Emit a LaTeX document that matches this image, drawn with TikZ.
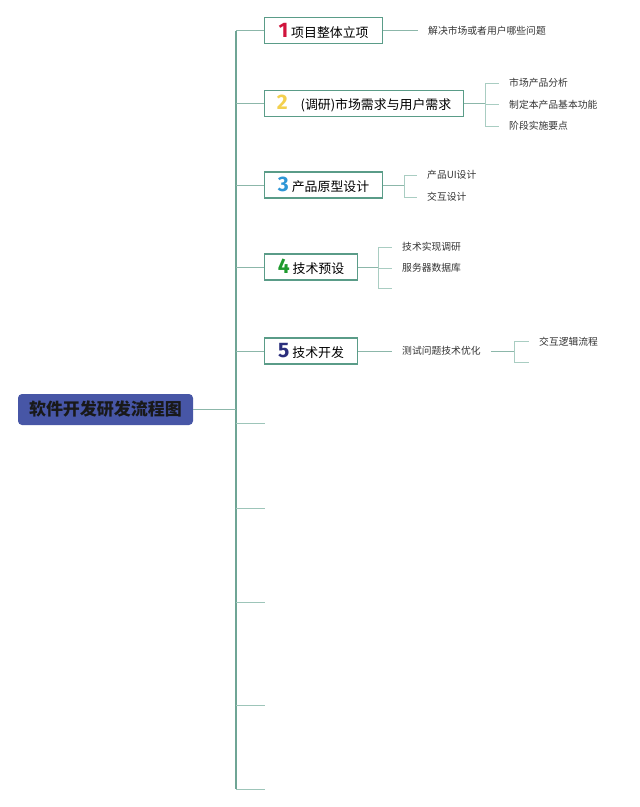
\documentclass[tikz,border=0pt]{standalone}
\usepackage{fontspec}
\setmainfont{Noto Sans CJK SC}
\newfontfamily\numfont{Fira Sans}
\usetikzlibrary{positioning}

\definecolor{trunkgreen}{HTML}{6FA595}
\definecolor{boxgreen}{HTML}{5A9C88}
\definecolor{leafgreen}{HTML}{A9CDC2}
\definecolor{rootblue}{HTML}{4756A6}
\definecolor{numred}{HTML}{D0143C}
\definecolor{numyellow}{HTML}{F3D04E}
\definecolor{numblue}{HTML}{2E96D6}
\definecolor{numgreen}{HTML}{1E9A2E}
\definecolor{numnavy}{HTML}{2A2E7C}

\newcommand\topicnum[2]{{\numfont\bfseries\fontsize{21}{21}\selectfont\color{#1}#2}}

\tikzset{
  root/.style={fill=rootblue, rounded corners=4pt, minimum width=175pt, minimum height=31pt,
    text=black!90, font=\bfseries\fontsize{17}{20}\selectfont},
  topic/.style={draw=boxgreen, line width=1.2pt, fill=white, anchor=west, minimum height=26pt,
    inner ysep=2pt, font=\fontsize{12.9}{14}\selectfont},
  leaf/.style={anchor=west, inner xsep=10pt, text=black!80, font=\fontsize{9.8}{11}\selectfont},
  trunk/.style={draw=trunkgreen, line width=1.3pt},
  branch/.style={draw=trunkgreen!80, line width=1pt},
  leafline/.style={draw=leafgreen, line width=0.9pt},
  stub/.style={draw=leafgreen!80!trunkgreen, line width=1pt}
}

\begin{document}
\begin{tikzpicture}[x=1pt, y=-1pt]
\useasboundingbox (0,0) rectangle (640,807);

% Root and trunk
\node[root] (root) at (105.5,409.5) {软件开发研发流程图};
\coordinate (top) at (236,30.5);
\coordinate (bottom) at (236,789);
\draw[trunk] (top) -- (bottom);
\draw[branch] (root.east) -- (root.east -| top);

% Main topics
\node[topic, minimum width=118pt] (t1) at (264,30.5) {\topicnum{numred}{1}\ 项目整体立项};
\node[topic, minimum width=199pt] (t2) at (264,103.5) {\topicnum{numyellow}{2}\quad(调研)市场需求与用户需求};
\node[topic, minimum width=118pt] (t3) at (264,185) {\topicnum{numblue}{3}\ 产品原型设计};
\node[topic, minimum width=93pt] (t4) at (264,267) {\topicnum{numgreen}{4}\ 技术预设};
\node[topic, minimum width=93pt] (t5) at (264,351) {\topicnum{numnavy}{5}\ 技术开发};

\foreach \t in {t1,t2,t3,t4,t5}
  \draw[branch] (\t.west -| top) -- (\t.west);

% Empty branches
\foreach \y [count=\i] in {423,508,602,705,789} {
  \coordinate (stub\i) at (265,\y);
  \draw[stub] (stub\i -| top) -- (stub\i);
}

% Topic 1
\node[leaf] (l11) at (418,31) {解决市场或者用户哪些问题};
\draw[branch] (t1.east) -- (t1.east -| l11.west);

% Topic 2
\coordinate (k2) at (485,103.5);
\node[leaf] (l21) at (499,83) {市场产品分析};
\node[leaf] (l22) at (499,104.5) {制定本产品基本功能};
\node[leaf] (l23) at (499,126) {阶段实施要点};
\draw[branch] (t2.east) -- (k2);
\draw[leafline] (k2 |- l21) -- (k2 |- l23);
\foreach \n in {l21,l22,l23}
  \draw[leafline] (k2 |- \n) -- (\n.west);

% Topic 3
\coordinate (k3) at (404,185);
\node[leaf] (l31) at (417,175) {产品UI设计};
\node[leaf] (l32) at (417,197) {交互设计};
\draw[branch] (t3.east) -- (k3);
\draw[leafline] (k3 |- l31) -- (k3 |- l32);
\foreach \n in {l31,l32}
  \draw[leafline] (k3 |- \n) -- (\n.west);

% Topic 4
\coordinate (k4) at (378,267);
\node[leaf] (l41) at (392,247) {技术实现调研};
\node[leaf] (l42) at (392,268) {服务器数据库};
\coordinate (l43) at (392,288);
\draw[branch] (t4.east) -- (k4);
\draw[leafline] (k4 |- l41) -- (k4 |- l43);
\foreach \n in {l41,l42}
  \draw[leafline] (k4 |- \n) -- (\n.west);
\draw[leafline] (k4 |- l43) -- (l43);

% Topic 5
\node[leaf] (l51) at (392,351) {测试问题技术优化};
\coordinate (k5) at (514,351);
\node[leaf] (l52) at (529,341.5) {交互逻辑流程};
\coordinate (l53) at (529,362);
\draw[branch] (t5.east) -- (t5.east -| l51.west);
\draw[branch] (l51.east) -- (k5);
\draw[leafline] (k5 |- l52) -- (k5 |- l53);
\draw[leafline] (k5 |- l52) -- (l52.west);
\draw[leafline] (k5 |- l53) -- (l53);

\end{tikzpicture}
\end{document}
